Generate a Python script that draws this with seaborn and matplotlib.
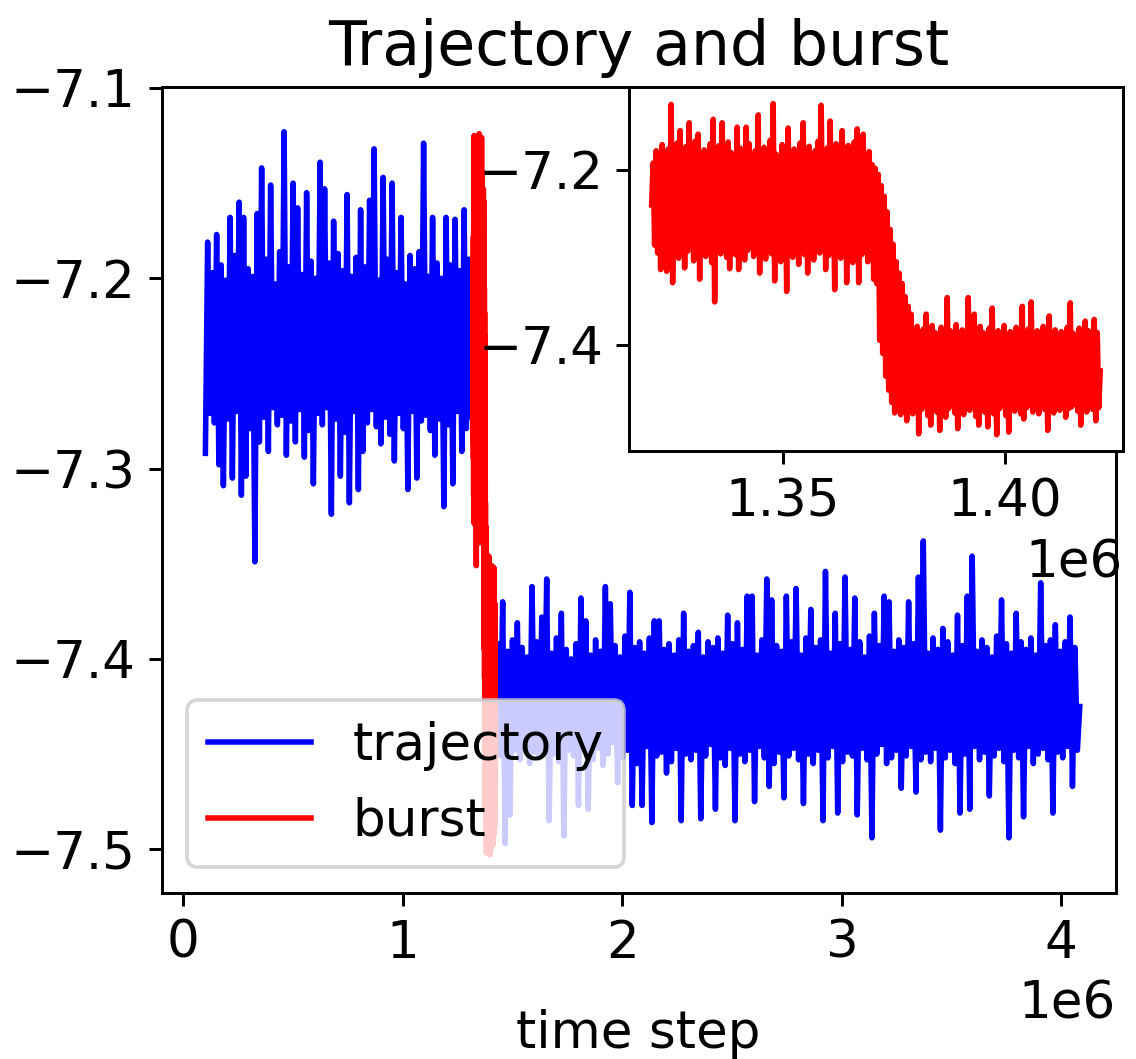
import numpy as np
import matplotlib
matplotlib.use("Agg")
import matplotlib.pyplot as plt
import seaborn as sns

plt.rcParams['font.family'] = ['DejaVu Sans']
plt.rcParams['font.size'] = 14

# trajectory before the burst (time step 0.10e6 .. 1.32e6)
traj_before = [
    -7.292, -7.181, -7.271, -7.197, -7.276, -7.177, -7.298, -7.193, -7.309, -7.201,
    -7.274, -7.168, -7.305, -7.188, -7.270, -7.160, -7.314, -7.168, -7.304, -7.195,
    -7.279, -7.199, -7.349, -7.166, -7.286, -7.142, -7.273, -7.190, -7.291, -7.151,
    -7.268, -7.203, -7.277, -7.186, -7.272, -7.123, -7.293, -7.194, -7.275, -7.150,
    -7.286, -7.163, -7.269, -7.198, -7.294, -7.155, -7.280, -7.191, -7.308, -7.200,
    -7.271, -7.139, -7.277, -7.153, -7.268, -7.192, -7.324, -7.170, -7.274, -7.187,
    -7.304, -7.196, -7.281, -7.156, -7.318, -7.199, -7.270, -7.189, -7.311, -7.164,
    -7.291, -7.194, -7.276, -7.159, -7.269, -7.132, -7.278, -7.201, -7.287, -7.147,
    -7.273, -7.190, -7.282, -7.150, -7.296, -7.197, -7.271, -7.168, -7.279, -7.203,
    -7.311, -7.188, -7.270, -7.195, -7.305, -7.186, -7.275, -7.129, -7.272, -7.199,
    -7.280, -7.168, -7.293, -7.192, -7.274, -7.200, -7.320, -7.168, -7.277, -7.193,
    -7.308, -7.169, -7.270, -7.196, -7.291, -7.164, -7.279, -7.190, -7.273, -7.201,
]

# the burst (time step 1.3205e6 .. 1.4214e6)
burst = [
    -7.240, -7.192, -7.286, -7.178, -7.295, -7.188, -7.314, -7.171, -7.290, -7.183,
    -7.316, -7.176, -7.298, -7.125, -7.329, -7.190, -7.284, -7.169, -7.301, -7.155,
    -7.288, -7.181, -7.312, -7.173, -7.293, -7.146, -7.283, -7.195, -7.304, -7.167,
    -7.291, -7.159, -7.325, -7.186, -7.282, -7.177, -7.299, -7.191, -7.287, -7.170,
    -7.306, -7.142, -7.351, -7.184, -7.290, -7.172, -7.296, -7.146, -7.284, -7.193,
    -7.300, -7.168, -7.313, -7.180, -7.289, -7.196, -7.297, -7.151, -7.314, -7.175,
    -7.286, -7.189, -7.303, -7.151, -7.292, -7.170, -7.285, -7.185, -7.299, -7.178,
    -7.294, -7.137, -7.318, -7.192, -7.283, -7.174, -7.302, -7.187, -7.290, -7.166,
    -7.296, -7.124, -7.327, -7.182, -7.288, -7.194, -7.305, -7.171, -7.292, -7.180,
    -7.339, -7.152, -7.287, -7.189, -7.300, -7.176, -7.284, -7.195, -7.308, -7.169,
    -7.291, -7.146, -7.297, -7.185, -7.318, -7.173, -7.286, -7.190, -7.303, -7.178,
    -7.289, -7.167, -7.295, -7.126, -7.283, -7.188, -7.314, -7.175, -7.298, -7.144,
    -7.290, -7.193, -7.337, -7.170, -7.287, -7.183, -7.301, -7.155, -7.294, -7.186,
    -7.329, -7.172, -7.285, -7.191, -7.306, -7.168, -7.292, -7.153, -7.329, -7.181,
    -7.297, -7.159, -7.288, -7.187, -7.305, -7.179, -7.296, -7.194, -7.325, -7.198,
    -7.330, -7.205, -7.395, -7.218, -7.410, -7.230, -7.436, -7.248, -7.452, -7.268,
    -7.466, -7.285, -7.478, -7.305, -7.474, -7.318, -7.480, -7.330, -7.476, -7.345,
    -7.487, -7.356, -7.472, -7.365, -7.479, -7.384, -7.470, -7.379, -7.502, -7.388,
    -7.474, -7.382, -7.468, -7.365, -7.481, -7.391, -7.492, -7.378, -7.471, -7.386,
    -7.477, -7.393, -7.498, -7.380, -7.466, -7.388, -7.483, -7.346, -7.473, -7.384,
    -7.469, -7.392, -7.478, -7.377, -7.496, -7.389, -7.472, -7.383, -7.480, -7.394,
    -7.467, -7.346, -7.475, -7.387, -7.470, -7.365, -7.482, -7.391, -7.492, -7.379,
    -7.471, -7.386, -7.477, -7.393, -7.494, -7.381, -7.468, -7.358, -7.479, -7.388,
    -7.503, -7.384, -7.473, -7.390, -7.466, -7.378, -7.481, -7.392, -7.500, -7.385,
    -7.470, -7.389, -7.476, -7.380, -7.468, -7.394, -7.479, -7.356, -7.485, -7.387,
    -7.472, -7.382, -7.469, -7.351, -7.477, -7.390, -7.471, -7.384, -7.479, -7.393,
    -7.466, -7.379, -7.474, -7.388, -7.498, -7.367, -7.470, -7.391, -7.478, -7.383,
    -7.467, -7.389, -7.475, -7.385, -7.469, -7.392, -7.483, -7.380, -7.473, -7.352,
    -7.471, -7.387, -7.468, -7.393, -7.476, -7.381, -7.492, -7.389, -7.470, -7.373,
    -7.477, -7.384, -7.469, -7.391, -7.474, -7.371, -7.487, -7.386, -7.472, -7.430,
]

# trajectory after the burst (time step 1.4214e6 .. 4.085e6)
traj_after = [
    -7.430, -7.392, -7.451, -7.370, -7.497, -7.396, -7.482, -7.390, -7.448, -7.381,
    -7.453, -7.394, -7.446, -7.399, -7.455, -7.362, -7.449, -7.391, -7.452, -7.378,
    -7.447, -7.358, -7.485, -7.397, -7.450, -7.389, -7.454, -7.376, -7.493, -7.395,
    -7.448, -7.400, -7.451, -7.392, -7.477, -7.368, -7.445, -7.380, -7.479, -7.398,
    -7.453, -7.390, -7.447, -7.396, -7.456, -7.362, -7.450, -7.371, -7.444, -7.393,
    -7.465, -7.399, -7.452, -7.388, -7.448, -7.365, -7.477, -7.394, -7.455, -7.391,
    -7.477, -7.397, -7.446, -7.389, -7.486, -7.380, -7.451, -7.380, -7.449, -7.395,
    -7.460, -7.392, -7.454, -7.398, -7.447, -7.390, -7.485, -7.376, -7.450, -7.396,
    -7.453, -7.393, -7.448, -7.386, -7.484, -7.399, -7.451, -7.391, -7.445, -7.394,
    -7.479, -7.389, -7.452, -7.397, -7.456, -7.377, -7.447, -7.392, -7.485, -7.381,
    -7.450, -7.395, -7.454, -7.367, -7.448, -7.367, -7.475, -7.398, -7.446, -7.390,
    -7.452, -7.358, -7.467, -7.369, -7.455, -7.393, -7.449, -7.396, -7.473, -7.367,
    -7.451, -7.391, -7.447, -7.363, -7.453, -7.398, -7.476, -7.389, -7.450, -7.374,
    -7.455, -7.394, -7.448, -7.390, -7.485, -7.354, -7.452, -7.397, -7.446, -7.376,
    -7.481, -7.392, -7.454, -7.357, -7.449, -7.395, -7.451, -7.368, -7.482, -7.391,
    -7.447, -7.399, -7.453, -7.388, -7.494, -7.376, -7.450, -7.393, -7.445, -7.367,
    -7.455, -7.370, -7.452, -7.396, -7.448, -7.390, -7.468, -7.394, -7.451, -7.370,
    -7.446, -7.392, -7.470, -7.357, -7.453, -7.338, -7.449, -7.397, -7.454, -7.389,
    -7.447, -7.395, -7.490, -7.384, -7.452, -7.391, -7.448, -7.398, -7.455, -7.377,
    -7.481, -7.393, -7.450, -7.367, -7.479, -7.346, -7.446, -7.396, -7.453, -7.390,
    -7.449, -7.394, -7.472, -7.399, -7.451, -7.388, -7.447, -7.369, -7.454, -7.392,
    -7.494, -7.397, -7.448, -7.376, -7.452, -7.391, -7.483, -7.395, -7.446, -7.389,
    -7.455, -7.398, -7.450, -7.360, -7.447, -7.393, -7.453, -7.390, -7.481, -7.382,
    -7.449, -7.396, -7.452, -7.391, -7.446, -7.378, -7.467, -7.394, -7.448, -7.425,
]

# time step ranges of the three pieces
before_range = (0.10e6, 1.32e6)
burst_range = (1.3205e6, 1.4214e6)
after_range = (1.4214e6, 4.085e6)

t_before = np.linspace(*before_range, len(traj_before))
t_burst = np.linspace(*burst_range, len(burst))
t_after = np.linspace(*after_range, len(traj_after))

W, H, DPI = 1136, 1059, 265
fig = plt.figure(figsize=(W / DPI, H / DPI), dpi=DPI)
ax = fig.add_axes([161.5 / W, 1 - 893 / H, 954.5 / W, 806 / H])

sns.lineplot(x=t_before, y=traj_before, color='blue', label='trajectory', ax=ax)
sns.lineplot(x=t_after, y=traj_after, color='blue', ax=ax)
sns.lineplot(x=t_burst, y=burst, color='red', label='burst', ax=ax)

ax.set_xlim(-0.1e6, 4.25e6)
ax.set_ylim(-7.523, -7.0995)
ax.set_yticks([-7.1, -7.2, -7.3, -7.4, -7.5])
ax.set_xlabel('time step', labelpad=11)
ax.set_title('Trajectory and burst')
ax.legend(loc='lower left')

# inset zoom on the burst
ax_in = ax.inset_axes([0.490, 0.548, 0.517, 0.452])
sns.lineplot(x=t_burst, y=burst, color='red', ax=ax_in)
ax_in.set_xticks([1.35e6, 1.40e6])
ax_in.set_yticks([-7.2, -7.4])

fig.savefig('out.png', dpi=DPI)
